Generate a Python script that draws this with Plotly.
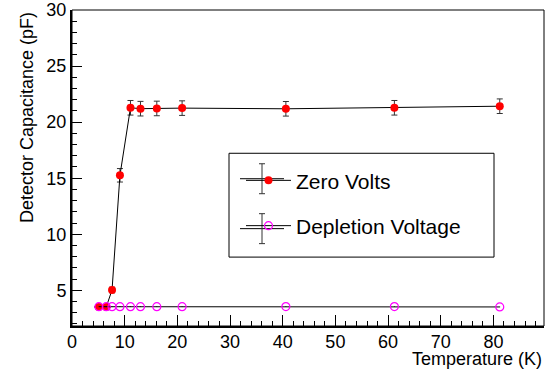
import plotly.graph_objects as go

temps = [5.1, 6.5, 7.6, 9.1, 11.1, 13.0, 16.1, 20.9, 40.6, 61.2, 81.2]
zero_volts = [3.52, 3.52, 5.03, 15.26, 21.28, 21.2, 21.22, 21.25, 21.19, 21.28, 21.42]
zero_err = [0.1, 0.1, 0.25, 0.6, 0.65, 0.65, 0.65, 0.65, 0.65, 0.65, 0.65]
zero_xerr = [0.9, 0.9, 0, 0, 0, 0, 0, 0, 0, 0, 0]
depletion = [3.54, 3.54, 3.54, 3.54, 3.54, 3.54, 3.54, 3.54, 3.55, 3.55, 3.52]
depl_err = [0.03] * 11

FONT = "Liberation Sans, Arial, sans-serif"

# plot-area pixel geometry
L, R, T, B = 72, 544, 9.5, 326
PW, PH = R - L, B - T


def px(xp):
    return (xp - L) / PW


def py(yp):
    return (B - yp) / PH


fig = go.Figure()
fig.add_trace(go.Scatter(
    x=temps, y=zero_volts, name="Zero Volts", mode="lines+markers",
    line=dict(color="black", width=1),
    marker=dict(color="#ff0000", size=8, symbol="circle"),
    error_y=dict(type="data", array=zero_err, color="#333333", thickness=1, width=3),
    error_x=dict(type="data", array=zero_xerr, color="#222222", thickness=1.5, width=0),
    legendgroup="a",
))
fig.add_trace(go.Scatter(
    x=temps, y=depletion, name="Depletion Voltage", mode="lines+markers",
    line=dict(color="black", width=1),
    marker=dict(color="#ff00ff", size=8, symbol="circle-open",
                line=dict(color="#ff00ff", width=1.2)),
    error_y=dict(type="data", array=depl_err, color="#333333", thickness=1, width=0),
    legendgroup="b",
))

# legend glyph decorations (horizontal line + vertical error bar)
glyph_shapes = []
for yc, half in [(178.5, 15), (228.5, 15)]:
    xc = 262
    glyph_shapes.append(dict(type="line", xref="paper", yref="paper",
                             x0=px(240), x1=px(284), y0=py(yc), y1=py(yc),
                             line=dict(color="black", width=1), layer="below"))
    glyph_shapes.append(dict(type="line", xref="paper", yref="paper",
                             x0=px(xc), x1=px(xc), y0=py(yc - half), y1=py(yc + half),
                             line=dict(color="#333333", width=1), layer="below"))
    for yy in (yc - half, yc + half):
        glyph_shapes.append(dict(type="line", xref="paper", yref="paper",
                                 x0=px(xc - 3), x1=px(xc + 3), y0=py(yy), y1=py(yy),
                                 line=dict(color="#333333", width=1), layer="below"))

fig.update_layout(
    width=551, height=375,
    margin=dict(l=L, r=551 - R, t=T, b=375 - B, autoexpand=False),
    paper_bgcolor="white", plot_bgcolor="white",
    font=dict(family=FONT, size=18, color="black"),
    showlegend=True,
    legend=dict(
        x=px(241), xanchor="left",
        y=py(203), yanchor="middle",
        bgcolor="rgba(0,0,0,0)", borderwidth=0,
        font=dict(family=FONT, size=21, color="black"),
        tracegroupgap=15, itemwidth=45,
    ),
    xaxis=dict(
        range=[0, 89.6], dtick=10, tick0=0, automargin=False,
        showgrid=False, zeroline=False, ticklabeloverflow="allow",
        ticklabelstandoff=-2,
        showline=True, linecolor="black", linewidth=2,
        ticks="inside", ticklen=11, tickwidth=1, tickcolor="black",
        minor=dict(dtick=2, ticks="inside", ticklen=5.5, tickwidth=1, tickcolor="black", showgrid=False),
        tickfont=dict(size=18),
    ),
    yaxis=dict(
        range=[1.82, 30.0], dtick=5, tick0=0, automargin=False,
        showgrid=False, zeroline=False, ticklabeloverflow="allow",
        showline=True, linecolor="black", linewidth=2,
        ticks="inside", ticklen=10, tickwidth=1, tickcolor="black",
        minor=dict(dtick=1, ticks="inside", ticklen=5, tickwidth=1, tickcolor="black", showgrid=False),
        tickfont=dict(size=18),
    ),
    shapes=[
        dict(type="rect", xref="paper", yref="paper", x0=0, x1=1, y0=0, y1=1,
             line=dict(color="black", width=1), layer="above"),
        dict(type="rect", xref="paper", yref="paper",
             x0=px(229), x1=px(494), y0=py(257), y1=py(153),
             line=dict(color="black", width=1), fillcolor="rgba(0,0,0,0)", layer="above"),
    ] + glyph_shapes,
    annotations=[
        dict(text="Temperature (K)", xref="paper", yref="paper", x=1.0, xanchor="right",
             y=py(359.5), yanchor="middle", showarrow=False,
             font=dict(family=FONT, size=18, color="black")),
        dict(text="Detector Capacitance (pF)", xref="paper", yref="paper",
             x=px(27), xanchor="center", y=py(10), yanchor="top",
             textangle=-90, showarrow=False,
             font=dict(family=FONT, size=18, color="black")),
    ],
)

fig.write_html(
    "out.html",
    config={"displayModeBar": False},
    post_script="document.body.style.margin='0px';document.body.style.overflow='hidden';",
)
